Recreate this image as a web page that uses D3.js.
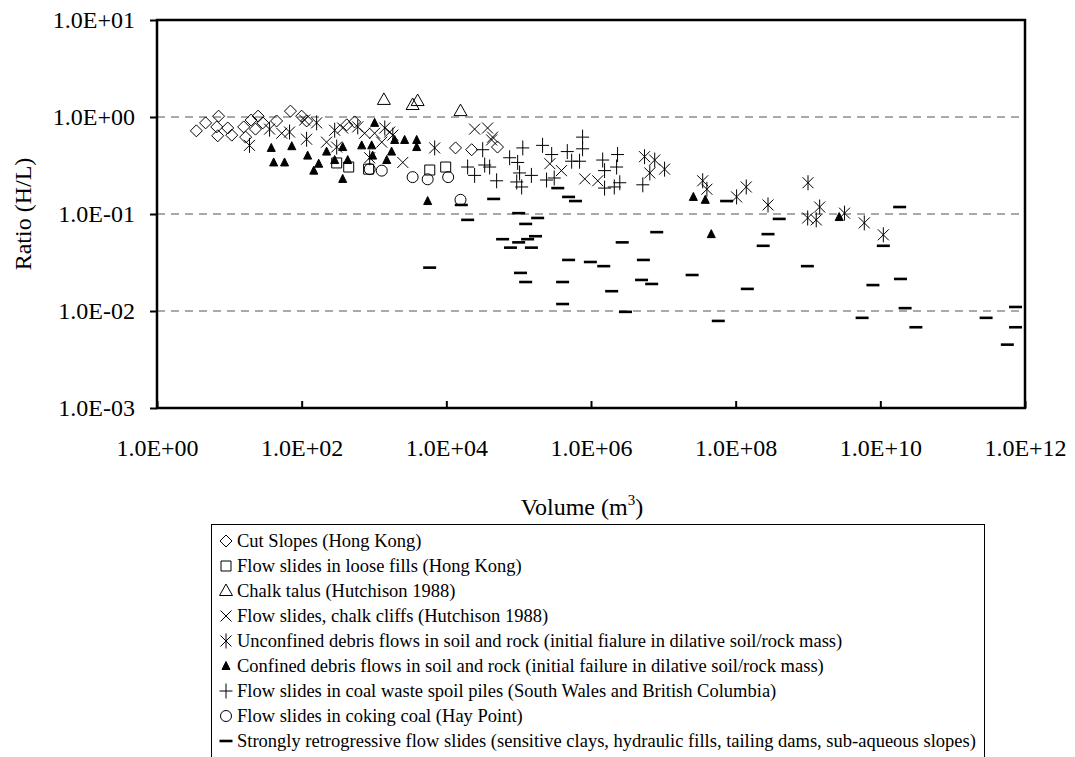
<!DOCTYPE html>
<html>
<head>
<meta charset="utf-8">
<script src="https://cdn.jsdelivr.net/npm/d3@7"></script>
<style>
  body { margin: 0; background: #fff; }
  svg { display: block; font-family: "Times New Roman", "Liberation Serif", serif; }
  .g-axis text { font-size: 24px; fill: #000; }
  .g-axis line { stroke: #000; stroke-width: 2; }
  .grid line { stroke: #555; stroke-dasharray: 8,6; stroke-width: 1; }
  .mark { fill: none; stroke: #000; stroke-width: 1; }
  .mark.solid { fill: #000; }
  .mark.dash { stroke-width: 2.6; }
  .legend text { font-size: 18.5px; fill: #000; }
</style>
</head>
<body>
<main></main>
<script>
// [volume m3, H/L ratio]
const cutSlopes = [
  [3.5, 0.72], [4.7, 0.87], [7.1, 1.02], [6.7, 0.79], [6.9, 0.64], [9.5, 0.77],
  [10.8, 0.65], [15.8, 0.79], [16.8, 0.62], [20, 0.93], [25, 1.02], [23, 0.75],
  [29, 0.87], [45, 0.91], [70, 1.15], [100, 1.02], [117, 0.91], [420, 0.83],
  [540, 0.89], [13400, 0.48], [22400, 0.46], [51000, 0.49]
];
const looseFills = [[305, 0.336], [447, 0.305], [843, 0.29], [5900, 0.284], [9800, 0.305]];
const chalkTalus = [[1370, 1.5], [3420, 1.33], [4010, 1.46], [15700, 1.15]];
const chalkCliffs = [
  [53, 0.68], [110, 0.93], [221, 0.55], [369, 0.77], [743, 0.68], [1020, 0.68],
  [1280, 0.55], [1650, 0.7], [2500, 0.34], [24600, 0.75], [37200, 0.77],
  [43600, 0.62], [42300, 0.58], [2.7e5, 0.33], [3.9e5, 0.28], [8.2e5, 0.23], [1.24e6, 0.22]
];
const unconfinedDebris = [
  [19, 0.51], [36, 0.75], [68, 0.7], [117, 0.59], [161, 0.87], [286, 0.73],
  [305, 0.49], [596, 0.79], [1410, 0.77], [1820, 0.65], [871, 0.38], [6900, 0.48],
  [5.5e6, 0.39], [7.6e6, 0.36], [6.5e6, 0.265], [1.04e7, 0.29], [3.5e7, 0.22],
  [4.0e7, 0.18], [1.03e8, 0.15], [1.4e8, 0.19], [2.8e8, 0.124], [1.0e9, 0.21],
  [9.9e8, 0.091], [1.3e9, 0.087], [1.45e9, 0.118], [3.2e9, 0.102], [6.0e9, 0.081],
  [1.1e10, 0.061]
];
const confinedDebris = [
  [38, 0.48], [41, 0.34], [58, 0.34], [73, 0.5], [121, 0.4], [147, 0.28],
  [172, 0.33], [221, 0.44], [286, 0.36], [369, 0.49], [369, 0.23], [433, 0.36],
  [676, 0.51], [929, 0.51], [1020, 0.87], [957, 0.4], [1500, 0.36], [1750, 0.44],
  [1930, 0.58], [2650, 0.58], [3890, 0.58], [3890, 0.49], [5520, 0.136],
  [2.6e7, 0.15], [3.8e7, 0.14], [4.6e7, 0.062], [2.7e9, 0.093]
];
const coalWaste = [
  [19700, 0.305], [24600, 0.25], [31800, 0.46], [33900, 0.32], [39700, 0.305],
  [49600, 0.22], [75000, 0.38], [96800, 0.34], [1.14e5, 0.48], [1.03e5, 0.265],
  [9.4e4, 0.214], [1.1e5, 0.19], [1.5e5, 0.25], [2.14e5, 0.51], [2.86e5, 0.41],
  [2.43e5, 0.224], [3.1e5, 0.235], [4.7e5, 0.44], [5.4e5, 0.35], [6.95e5, 0.35],
  [7.65e5, 0.62], [7.65e5, 0.47], [1.45e6, 0.36], [1.54e6, 0.28], [2.26e6, 0.305],
  [2.33e6, 0.41], [2.5e6, 0.21], [1.54e6, 0.185], [2.1e6, 0.19], [5.2e6, 0.2]
];
const cokingCoal = [[871, 0.29], [1280, 0.28], [3420, 0.24], [5520, 0.228], [10600, 0.24], [15700, 0.14]];
const retrogressive = [
  [16100, 0.124], [19700, 0.087], [45100, 0.143], [5880, 0.028], [3.47e5, 0.185],
  [4.9e5, 0.15], [6.1e5, 0.136], [1.0e5, 0.102], [1.83e5, 0.091], [1.25e5, 0.079],
  [1.71e5, 0.059], [6.0e4, 0.055], [1.0e5, 0.051], [1.33e5, 0.055], [7.7e4, 0.045],
  [1.5e5, 0.045], [2.7e6, 0.051], [8.1e6, 0.065], [4.9e5, 0.0336], [9.8e5, 0.032],
  [1.5e6, 0.029], [5.3e6, 0.0336], [1.06e5, 0.0247], [1.25e5, 0.0199], [4.05e5, 0.0199],
  [5.0e6, 0.0209], [6.9e6, 0.019], [1.93e6, 0.016], [2.5e7, 0.0235], [4.05e5, 0.0118],
  [3.0e6, 0.0098], [7.5e7, 0.136], [5.75e7, 0.0079], [4.0e8, 0.089], [2.8e8, 0.062],
  [2.4e8, 0.047], [1.45e8, 0.0169], [9.8e8, 0.029], [1.85e10, 0.118], [1.1e10, 0.047],
  [7.9e9, 0.0185], [1.9e10, 0.0214], [2.2e10, 0.0107], [5.6e9, 0.0085], [3.1e10, 0.0068],
  [2.9e11, 0.0085], [7.4e11, 0.011], [7.4e11, 0.0068], [5.7e11, 0.0045]
];

const xTicks = [1, 1e2, 1e4, 1e6, 1e8, 1e10, 1e12];
const yTicks = [10, 1, 0.1, 0.01, 0.001];
const gridValues = [1, 0.1, 0.01];

// marker shapes, centred on 0,0
const shapes = {
  diamond: 'M0,-6L6,0L0,6L-6,0Z',
  square: 'M-5,-5H5V5H-5Z',
  triangle: 'M0,-7L6.5,4.5L-6.5,4.5Z',
  cross: 'M-5.5,-5.5L5.5,5.5M5.5,-5.5L-5.5,5.5',
  star: 'M-5.5,-5.5L5.5,5.5M5.5,-5.5L-5.5,5.5M0,-7.5V7.5',
  solidTri: 'M0,-4.5L4,3.5L-4,3.5Z',
  plus: 'M-6.5,0H6.5M0,-7.5V7.5',
  circle: 'M5.5,0A5.5,5.5 0 1,1 -5.5,0A5.5,5.5 0 1,1 5.5,0Z',
  dash: 'M-6.5,0H6.5'
};

const series = [
  { label: 'Cut Slopes (Hong Kong)', data: cutSlopes, shape: 'diamond' },
  { label: 'Flow slides in loose fills (Hong Kong)', data: looseFills, shape: 'square' },
  { label: 'Chalk talus (Hutchison 1988)', data: chalkTalus, shape: 'triangle' },
  { label: 'Flow slides, chalk cliffs (Hutchison 1988)', data: chalkCliffs, shape: 'cross' },
  { label: 'Unconfined debris flows in soil and rock (initial fialure in dilative soil/rock mass)', data: unconfinedDebris, shape: 'star' },
  { label: 'Confined debris flows in soil and rock (initial failure in dilative soil/rock mass)', data: confinedDebris, shape: 'solidTri' },
  { label: 'Flow slides in coal waste spoil piles (South Wales and British Columbia)', data: coalWaste, shape: 'plus' },
  { label: 'Flow slides in coking coal (Hay Point)', data: cokingCoal, shape: 'circle' },
  { label: 'Strongly retrogressive flow slides (sensitive clays, hydraulic fills, tailing dams, sub-aqueous slopes)', data: retrogressive, shape: 'dash' }
];

const margin = { top: 20, right: 50, bottom: 349, left: 157 };
const width = 1075 - margin.left - margin.right;
const height = 757 - margin.top - margin.bottom;
const serif = '"Times New Roman", "Liberation Serif", serif';

const fmtExp = d => {
  const e = Math.round(Math.log10(d));
  return '1.0E' + (e < 0 ? '-' : '+') + String(Math.abs(e)).padStart(2, '0');
};

const markClass = s => 'mark' + (s === 'solidTri' ? ' solid' : '') + (s === 'dash' ? ' dash' : '');

const $svg = d3.select('main').append('svg')
  .attr('width', 1075)
  .attr('height', 757);

const $g = $svg.append('g').attr('transform', `translate(${margin.left}, ${margin.top})`);

const scaleX = d3.scaleLog().domain([1, 1e12]).range([0, width]);
const scaleY = d3.scaleLog().domain([1e-3, 10]).range([height, 0]);

$g.append('g').attr('class', 'grid')
  .selectAll('line')
  .data(gridValues)
  .join('line')
  .attr('x1', 0)
  .attr('x2', width)
  .attr('y1', d => scaleY(d))
  .attr('y2', d => scaleY(d));

const axisY = d3.axisLeft(scaleY).tickValues(yTicks).tickFormat(fmtExp)
  .tickSizeInner(7).tickSizeOuter(0).tickPadding(15);
$g.append('g').attr('class', 'g-axis axis--y').call(axisY)
  .attr('font-family', serif)
  .attr('font-size', 24)
  .call(a => a.select('.domain').remove());

const axisX = d3.axisBottom(scaleX).tickValues(xTicks).tickFormat(fmtExp)
  .tickSizeInner(-7).tickSizeOuter(0).tickPadding(31);
$g.append('g').attr('class', 'g-axis axis--x')
  .attr('transform', `translate(0, ${height})`)
  .call(axisX)
  .attr('font-family', serif)
  .attr('font-size', 24)
  .call(a => a.select('.domain').remove());

const $vis = $g.append('g').attr('class', 'g-vis');
series.forEach(s => {
  $vis.append('g')
    .selectAll('path')
    .data(s.data)
    .join('path')
    .attr('class', markClass(s.shape))
    .attr('d', shapes[s.shape])
    .attr('transform', d => `translate(${scaleX(d[0])}, ${scaleY(d[1])})`);
});

$g.append('rect')
  .attr('width', width)
  .attr('height', height)
  .attr('fill', 'none')
  .attr('stroke', '#000')
  .attr('stroke-width', 2.5);

// axis titles
$svg.append('text')
  .attr('transform', `translate(31, ${margin.top + height / 2}) rotate(-90)`)
  .attr('text-anchor', 'middle')
  .style('font-size', '24px')
  .text('Ratio (H/L)');

const $xt = $svg.append('text')
  .attr('x', 582)
  .attr('y', 515)
  .attr('text-anchor', 'middle')
  .style('font-size', '24px');
$xt.append('tspan').text('Volume (m');
$xt.append('tspan').attr('dy', -10).style('font-size', '15px').text('3');
$xt.append('tspan').attr('dy', 10).text(')');

// legend
const $legend = $svg.append('g').attr('class', 'legend').attr('transform', 'translate(211, 524)');
$legend.append('rect')
  .attr('x', 0.5)
  .attr('y', 0.5)
  .attr('width', 773)
  .attr('height', 260)
  .attr('fill', '#fff')
  .attr('stroke', '#000')
  .attr('stroke-width', 1);

const $item = $legend.selectAll('.item')
  .data(series)
  .join('g')
  .attr('class', 'item')
  .attr('transform', (d, i) => `translate(0, ${17 + i * 25})`);

$item.append('path')
  .attr('class', d => markClass(d.shape))
  .attr('d', d => shapes[d.shape])
  .attr('transform', 'translate(15, 0)');

$item.append('text')
  .attr('x', 26)
  .attr('dy', '0.32em')
  .text(d => d.label);
</script>
</body>
</html>
